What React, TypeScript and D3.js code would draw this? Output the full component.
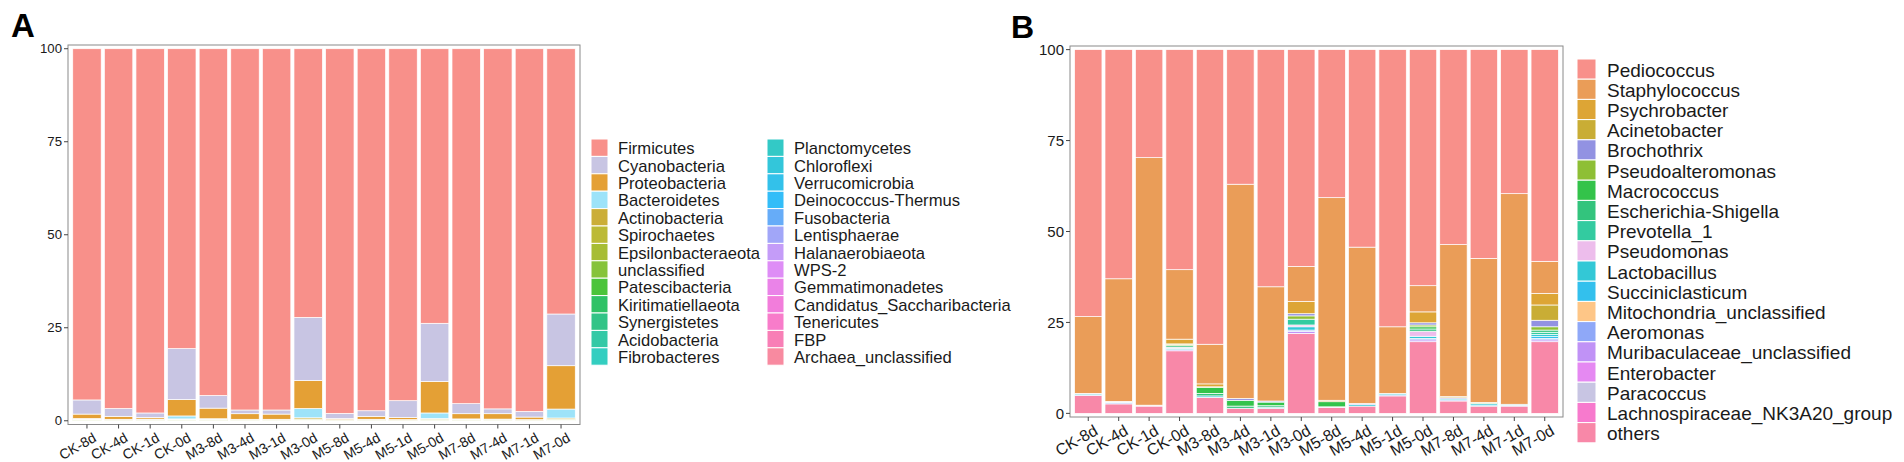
import React from "react";
import * as d3 from "d3";

const samples = ["CK-8d","CK-4d","CK-1d","CK-0d","M3-8d","M3-4d","M3-1d","M3-0d","M5-8d","M5-4d","M5-1d","M5-0d","M7-8d","M7-4d","M7-1d","M7-0d"];
const yTicks = [0, 25, 50, 75, 100];

// Panel A: phyla (legend order = stacking order, first on top)
const phylumNames = ["Firmicutes","Cyanobacteria","Proteobacteria","Bacteroidetes","Actinobacteria","Spirochaetes","Epsilonbacteraeota","unclassified","Patescibacteria","Kiritimatiellaeota","Synergistetes","Acidobacteria","Fibrobacteres","Planctomycetes","Chloroflexi","Verrucomicrobia","Deinococcus-Thermus","Fusobacteria","Lentisphaerae","Halanaerobiaeota","WPS-2","Gemmatimonadetes","Candidatus_Saccharibacteria","Tenericutes","FBP","Archaea_unclassified"];
const phylumColors = ["#F8908A","#C8C5E3","#E4A035","#9DE3F9","#CBAE38","#BCBA36","#A7BD34","#86C33A","#4BC43A","#2FC266","#32C487","#33C9A6","#33CEC0","#33C9C6","#33C6DA","#33C1EA","#33BDF8","#66ACF8","#A1A6F8","#C49CF8","#DE8DF6","#EA83E8","#F27DDB","#F87CCA","#F87FB6","#F88AA0"];
const firmicutes = [94.4, 96.7, 97.9, 80.6, 93.2, 97.1, 97.1, 72.2, 98.0, 97.3, 94.6, 73.8, 95.4, 96.8, 97.5, 71.3];
const cyanobacteria = [3.8, 2.1, 1.2, 13.7, 3.4, 1.0, 1.1, 17.0, 1.4, 1.5, 4.5, 15.6, 2.7, 1.3, 1.5, 13.9];
const proteobacteria = [1.2, 0.8, 0.45, 4.4, 2.85, 1.5, 1.4, 7.5, 0.3, 0.8, 0.6, 8.5, 1.4, 1.45, 0.7, 11.65];
const bacteroidetes = [0.1, 0.05, 0.1, 0.8, 0.1, 0.05, 0.05, 2.5, 0.05, 0.05, 0.05, 1.5, 0.05, 0.1, 0.05, 2.4];
const actinobacteria = [0.2, 0.15, 0.15, 0.2, 0.2, 0.15, 0.15, 0.35, 0.1, 0.15, 0.1, 0.25, 0.2, 0.15, 0.1, 0.3];
const epsilonbacteraeota = [0.15, 0.1, 0.1, 0.15, 0.15, 0.1, 0.1, 0.25, 0.1, 0.1, 0.1, 0.2, 0.15, 0.1, 0.1, 0.25];
const unclassifiedPhylum = [0.15, 0.1, 0.1, 0.15, 0.1, 0.1, 0.1, 0.2, 0.05, 0.1, 0.05, 0.15, 0.1, 0.1, 0.05, 0.2];

// Panel B: genera
const genusNames = ["Pediococcus","Staphylococcus","Psychrobacter","Acinetobacter","Brochothrix","Pseudoalteromonas","Macrococcus","Escherichia-Shigella","Prevotella_1","Pseudomonas","Lactobacillus","Succiniclasticum","Mitochondria_unclassified","Aeromonas","Muribaculaceae_unclassified","Enterobacter","Paracoccus","Lachnospiraceae_NK3A20_group","others"];
const genusColors = ["#F8908A","#EA9D58","#DDA535","#C9AD35","#9292E2","#8EBF35","#33C34A","#33C47D","#33CBA0","#EDBDEC","#33C8D6","#33C0ED","#FEC687","#8FA8F8","#C092F6","#E589F2","#C8C5E3","#F77ACD","#F888A8"];
const pediococcus = [73.4, 63.0, 29.7, 60.5, 81.0, 37.0, 65.2, 59.6, 40.7, 54.3, 76.2, 64.9, 53.6, 57.4, 39.6, 58.2];
const staphylococcus = [21.1, 33.7, 68.05, 19.1, 10.9, 58.9, 31.4, 9.6, 55.7, 43.0, 18.3, 7.2, 41.8, 39.6, 57.9, 8.8];
const psychrobacter = [0, 0, 0, 1.3, 0.8, 0, 0, 3.4, 0, 0, 0, 3.0, 0, 0, 0, 3.2];
const acinetobacter = [0, 0, 0, 0.2, 0, 0, 0, 0, 0.4, 0, 0, 0, 0.3, 0, 0, 4.2];
const brochothrix = [0, 0, 0, 0, 0, 0.5, 0.3, 0.6, 0, 0.3, 0, 0.6, 0.3, 0, 0, 1.8];
const pseudoalteromonas = [0.1, 0, 0, 0.3, 0.2, 0, 0, 0.9, 0, 0, 0, 0.5, 0, 0.3, 0, 0.9];
const macrococcus = [0, 0, 0, 0, 1.6, 1.6, 1.0, 0, 1.4, 0, 0, 0.6, 0, 0, 0, 0];
const escherichia = [0, 0, 0, 0.4, 0.7, 0.6, 0.4, 0, 0, 0, 0, 0.6, 0, 0, 0, 0.6];
const prevotella = [0, 0, 0, 0, 0, 0, 0, 1.6, 0, 0, 0, 0, 0, 0, 0, 0.6];
const pseudomonas = [0, 0, 0, 0.3, 0, 0, 0, 0.5, 0.2, 0, 0, 1.4, 0, 0, 0, 0];
const lactobacillus = [0.3, 0.2, 0.15, 0.4, 0.4, 0, 0.3, 0.9, 0, 0.4, 0.4, 0.6, 0.3, 0.4, 0.3, 0.6];
const succiniclasticum = [0, 0.2, 0, 0, 0, 0, 0, 0, 0, 0, 0, 0, 0, 0.3, 0, 0.5];
const aeromonas = [0.2, 0.3, 0, 0, 0, 0, 0, 0.4, 0, 0, 0.3, 0.4, 0.3, 0, 0.2, 0.4];
const muribaculaceae = [0, 0, 0.1, 0.3, 0, 0, 0, 0.5, 0, 0, 0, 0.5, 0, 0, 0, 0.5];
const othersGenus = [4.9, 2.6, 2.0, 17.2, 4.4, 1.4, 1.4, 22.0, 1.6, 2.0, 4.8, 19.7, 3.4, 2.0, 2.0, 19.7];

const FONT = "'Liberation Sans', Arial, Helvetica, sans-serif";

type Series = { name: string; color: string; values: number[] };

function Panel(props: {
  x0: number; x1: number; top: number; bottom: number;
  series: Series[]; yFont: number; xFont: number;
}) {
  const { x0, x1, top, bottom, series, yFont, xFont } = props;
  const y = d3.scaleLinear().domain([-1, 101]).range([bottom, top]);
  const x = d3.scalePoint<string>().domain(samples).range([x0, x1]).padding(0.6);
  const bw = x.step() * 0.9;
  const keys = series.map((s) => s.name).reverse();
  const rows = samples.map((s, i) => {
    const r: any = { sample: s };
    series.forEach((se) => (r[se.name] = se.values[i]));
    return r;
  });
  const stacked = d3.stack<any>().keys(keys)(rows);
  const colorOf = new Map(series.map((s) => [s.name, s.color]));
  return (
    <g>
      {stacked.map((layer) => (
        <g key={layer.key} fill={colorOf.get(layer.key)}>
          {layer.map((d, i) =>
            d[1] - d[0] > 0 ? (
              <rect key={i} x={(x(samples[i]) as number) - bw / 2} width={bw}
                y={y(d[1])} height={y(d[0]) - y(d[1])}
                stroke="#ffffff" strokeWidth={0.7} />
            ) : null
          )}
        </g>
      ))}
      <rect x={x0} y={top} width={x1 - x0} height={bottom - top} fill="none" stroke="#8a8a8a" strokeWidth={1} />
      {yTicks.map((t) => (
        <g key={t}>
          <line x1={x0 - 4} x2={x0} y1={y(t)} y2={y(t)} stroke="#444" strokeWidth={1} />
          <text x={x0 - 6} y={y(t)} textAnchor="end" dominantBaseline="central" fontSize={yFont} fill="#1a1a1a" fontFamily={FONT}>{t}</text>
        </g>
      ))}
      {samples.map((s) => {
        const cx = x(s) as number;
        return (
          <g key={s}>
            <line x1={cx} x2={cx} y1={bottom} y2={bottom + 4} stroke="#444" strokeWidth={1} />
            <text transform={`translate(${cx + 5},${bottom + 7}) rotate(-30)`} textAnchor="end" dominantBaseline="hanging" fontSize={xFont} fill="#1a1a1a" fontFamily={FONT}>{s}</text>
          </g>
        );
      })}
    </g>
  );
}

function Legend(props: { names: string[]; colors: string[]; x: number; top: number; keyW: number; rowH: number; textDx: number; font: number }) {
  const { names, colors, x, top, keyW, rowH, textDx, font } = props;
  return (
    <g>
      {names.map((n, i) => (
        <g key={n}>
          <rect x={x} y={top + i * rowH} width={keyW} height={rowH} fill={colors[i]} stroke="#ffffff" strokeWidth={1} />
          <text x={x + textDx} y={top + i * rowH + rowH / 2 + 1} dominantBaseline="central" fontSize={font} fill="#1a1a1a" fontFamily={FONT}>{n}</text>
        </g>
      ))}
    </g>
  );
}

export default function App() {
  const seriesA: Series[] = [
    { name: phylumNames[0], color: phylumColors[0], values: firmicutes },
    { name: phylumNames[1], color: phylumColors[1], values: cyanobacteria },
    { name: phylumNames[2], color: phylumColors[2], values: proteobacteria },
    { name: phylumNames[3], color: phylumColors[3], values: bacteroidetes },
    { name: phylumNames[4], color: phylumColors[4], values: actinobacteria },
    { name: phylumNames[6], color: phylumColors[6], values: epsilonbacteraeota },
    { name: phylumNames[7], color: phylumColors[7], values: unclassifiedPhylum },
  ];
  const genusValues = [pediococcus, staphylococcus, psychrobacter, acinetobacter, brochothrix, pseudoalteromonas, macrococcus, escherichia, prevotella, pseudomonas, lactobacillus, succiniclasticum, null, aeromonas, muribaculaceae, null, null, null, othersGenus];
  const seriesB: Series[] = genusNames
    .map((n, i) => ({ name: n, color: genusColors[i], values: genusValues[i] as number[] }))
    .filter((s) => s.values);
  return (
    <svg width={1904} height={462} style={{ display: "block", position: "absolute", left: 0, top: 0, background: "#fff" }}>
      <rect width={1904} height={462} fill="#fff" />
      <text x={11} y={37} fontSize={33} fontWeight="bold" fontFamily={FONT} fill="#000">A</text>
      <text x={1011} y={38} fontSize={32} fontWeight="bold" fontFamily={FONT} fill="#000">B</text>
      <Panel x0={68} x1={580} top={45} bottom={424.5} series={seriesA} yFont={13.2} xFont={14} />
      <Legend names={phylumNames.slice(0, 13)} colors={phylumColors.slice(0, 13)} x={591} top={139} keyW={17} rowH={17.4} textDx={27} font={16.6} />
      <Legend names={phylumNames.slice(13)} colors={phylumColors.slice(13)} x={767} top={139} keyW={17} rowH={17.4} textDx={27} font={16.6} />
      <Panel x0={1070} x1={1563} top={46} bottom={417} series={seriesB} yFont={15} xFont={16} />
      <Legend names={genusNames} colors={genusColors} x={1577} top={59} keyW={19} rowH={20.2} textDx={30} font={19} />
    </svg>
  );
}
